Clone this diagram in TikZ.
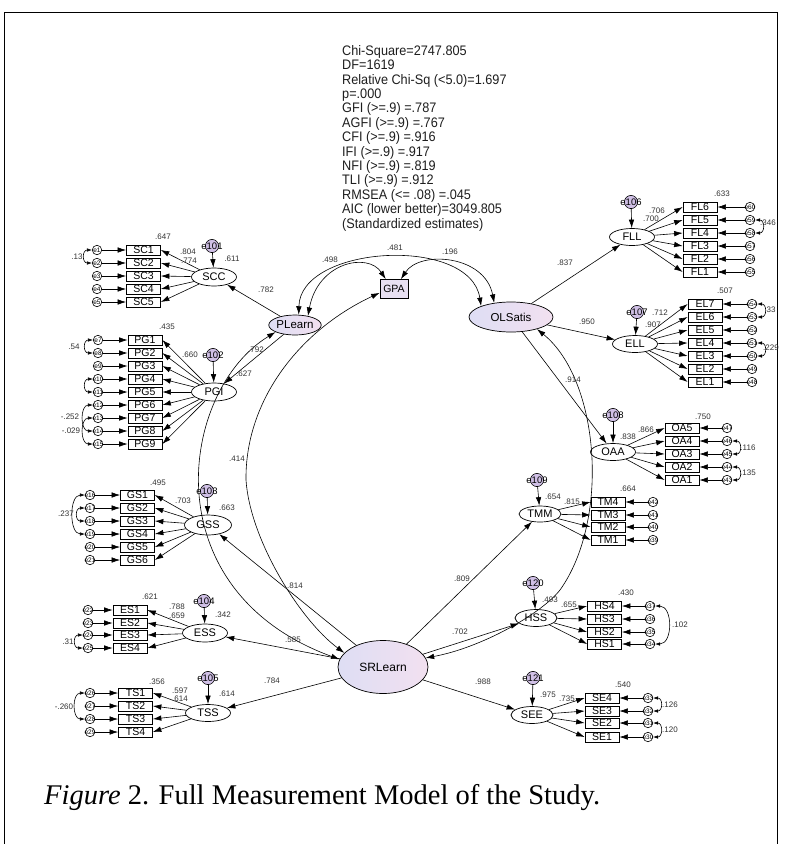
\documentclass[tikz,border=0pt]{standalone}
\usepackage{fontspec}
\usepackage{graphicx}
\setmainfont{Liberation Sans}
\newfontfamily\capfont{Liberation Serif}
\usetikzlibrary{arrows.meta,shapes.geometric}
\definecolor{lavL}{RGB}{222,222,244}
\definecolor{lavR}{RGB}{242,224,240}
\definecolor{distc}{RGB}{208,192,230}
\definecolor{gpac}{RGB}{232,224,242}
\definecolor{lbl}{RGB}{50,50,50}
\tikzset{
 obs/.style={draw, rectangle, line width=0.7pt, minimum width=34pt, minimum height=10pt, inner sep=0pt, font=\fontsize{10.5}{10.5}\selectfont},
 lat/.style={draw, ellipse, line width=0.7pt, minimum width=45pt, minimum height=18pt, inner sep=0pt, font=\fontsize{11}{12}\selectfont},
 errc/.style={draw, circle, line width=0.6pt, minimum size=9.5pt, inner sep=-1.2pt, font=\fontsize{6.5}{7}\selectfont},
 distn/.style={draw, circle, line width=0.6pt, fill=distc, inner sep=-4pt, font=\fontsize{9.5}{10}\selectfont},
 hilat/.style={draw, ellipse, line width=0.7pt, left color=lavL, right color=lavR, inner sep=0pt, font=\fontsize{11.5}{12}\selectfont},
 lab/.style={font=\fontsize{8}{9}\selectfont, text=lbl, inner sep=0pt},
 pth/.style={-{Latex[length=8.5pt,width=5.5pt]}, line width=0.6pt},
 cov/.style={{Latex[length=8.5pt,width=5.5pt]}-{Latex[length=8.5pt,width=5.5pt]}, line width=0.6pt},
 covs/.style={{Latex[length=5pt,width=3.5pt]}-{Latex[length=5pt,width=3.5pt]}, line width=0.6pt},
}
\begin{document}
\begin{tikzpicture}[x=1pt,y=-1pt]
\useasboundingbox (0,0) rectangle (792,844);
\draw[line width=0.8pt] (4,844) -- (4,12) -- (777,12) -- (777,844);

% statistics
\node[anchor=north west, inner sep=0pt, font=\fontsize{13.8}{14.4}\selectfont, text={rgb,255:red,30;green,30;blue,30}] (stats) at (342,45)
 {\scalebox{0.92}[1]{\begin{tabular}{@{}l@{}}
 Chi-Square=2747.805\\
 DF=1619\\
 Relative Chi-Sq (<5.0)=1.697\\
 p=.000\\
 GFI (>=.9) =.787\\
 AGFI (>=.9) =.767\\
 CFI (>=.9) =.916\\
 IFI (>=.9) =.917\\
 NFI (>=.9) =.819\\
 TLI (>=.9) =.912\\
 RMSEA (<= .08) =.045\\
 AIC (lower better)=3049.805\\
 (Standardized estimates)
 \end{tabular}}};

% caption
\node[anchor=base west, inner sep=0pt, font=\capfont\fontsize{28.5}{30}\selectfont] (cap) at (44,804)
 {\textit{Figure} 2. Full Measurement Model of the Study.};

% central nodes
\node[draw, rectangle, line width=0.7pt, fill=gpac, minimum width=28pt, minimum height=19pt, inner sep=0pt, font=\fontsize{10.5}{11}\selectfont] (GPA) at (394,289) {GPA};
\node[hilat, minimum width=48pt, minimum height=20pt] (PLearn) at (295,325) {PLearn};
\node[hilat, minimum width=84pt, minimum height=30pt] (OLSatis) at (511,317) {OLSatis};
\node[hilat, minimum width=90pt, minimum height=53pt, font=\fontsize{12}{13}\selectfont] (SRLearn) at (383,667) {SRLearn};

% ---------- left groups ----------
\node[lat] (SCC) at (214,277) {SCC};
\node[distn] (d101) at (212,246) {e101};
\draw[pth] (d101) -- (SCC);
\foreach \i/\y/\e in {1/250/1,2/263/2,3/276/3,4/289/4,5/302/5}{
 \node[obs] (SC\i) at (143.5,\y) {SC\i};
 \node[errc] (eSC\i) at (97,\y) {e\e};
 \draw[pth] (eSC\i) -- (SC\i);
 \draw[pth] (SCC) -- (SC\i.east);
}

\node[lat] (PGI) at (214,392) {PGI};
\node[distn] (d102) at (213,355) {e102};
\draw[pth] (d102) -- (PGI);
\foreach \i/\y/\e in {1/340/7,2/353/8,3/366/9,4/379/10,5/392/11,6/405/12,7/418/13,8/431/14,9/444/15}{
 \node[obs] (PG\i) at (145,\y) {PG\i};
 \node[errc] (ePG\i) at (98,\y) {e\e};
 \draw[pth] (ePG\i) -- (PG\i);
 \draw[pth] (PGI) -- (PG\i.east);
}

\node[lat, minimum width=47pt, minimum height=20pt] (GSS) at (208,525) {GSS};
\node[distn] (d103) at (207,491) {e103};
\draw[pth] (d103) -- (GSS);
\foreach \i/\y/\e in {1/495/16,2/508/17,3/521/18,4/534/19,5/547/20,6/560/21}{
 \node[obs] (GS\i) at (137.5,\y) {GS\i};
 \node[errc] (eGS\i) at (90,\y) {e\e};
 \draw[pth] (eGS\i) -- (GS\i);
 \draw[pth] (GSS) -- (GS\i.east);
}

\node[lat] (ESS) at (205,633) {ESS};
\node[distn] (d104) at (204,601) {e104};
\draw[pth] (d104) -- (ESS);
\foreach \i/\y/\e in {1/610/22,2/623/23,3/635/24,4/648/25}{
 \node[obs] (ES\i) at (130,\y) {ES\i};
 \node[errc] (eES\i) at (88,\y) {e\e};
 \draw[pth] (eES\i) -- (ES\i);
 \draw[pth] (ESS) -- (ES\i.east);
}

\node[lat, minimum height=17pt] (TSS) at (208,713) {TSS};
\node[distn] (d105) at (208,678) {e105};
\draw[pth] (d105) -- (TSS);
\foreach \i/\y/\e in {1/693/26,2/706/27,3/719/28,4/732/29}{
 \node[obs] (TS\i) at (135.5,\y) {TS\i};
 \node[errc] (eTS\i) at (90,\y) {e\e};
 \draw[pth] (eTS\i) -- (TS\i);
 \draw[pth] (TSS) -- (TS\i.east);
}

\foreach \a/\b/\d in {eSC1/eSC2/10, ePG1/ePG2/10, ePG4/ePG5/10, ePG6/ePG8/13, ePG7/ePG9/13, eGS1/eGS4/16, eGS2/eGS3/10, eES3/eES4/10, eTS1/eTS3/13}
 \draw[covs] (\a.west) .. controls +(-\d,0) and +(-\d,0) .. (\b.west);

% ---------- right groups ----------
\node[lat, minimum height=17pt] (FLL) at (632,237) {FLL};
\node[distn] (d106) at (631,202) {e106};
\draw[pth] (d106) -- (FLL);
\foreach \i/\y/\e in {6/207/60,5/220/59,4/233/58,3/246/57,2/259/56,1/272/55}{
 \node[obs] (FL\i) at (700,\y) {FL\i};
 \node[errc] (eFL\i) at (750,\y) {e\e};
 \draw[pth] (eFL\i) -- (FL\i);
 \draw[pth] (FLL) -- (FL\i.west);
}

\node[lat, minimum height=17pt] (ELL) at (635,344) {ELL};
\node[distn] (d107) at (637,312) {e107};
\draw[pth] (d107) -- (ELL);
\foreach \i/\y/\e in {7/304/54,6/317/53,5/330/52,4/343/51,3/356/50,2/369/49,1/382/48}{
 \node[obs] (EL\i) at (705,\y) {EL\i};
 \node[errc] (eEL\i) at (752,\y) {e\e};
 \draw[pth] (eEL\i) -- (EL\i);
 \draw[pth] (ELL) -- (EL\i.west);
}

\node[lat, minimum height=17pt] (OAA) at (613,452) {OAA};
\node[distn] (d108) at (613,415) {e108};
\draw[pth] (d108) -- (OAA);
\foreach \i/\y/\e in {5/428/47,4/441/46,3/454/45,2/467/44,1/480/43}{
 \node[obs] (OA\i) at (682,\y) {OA\i};
 \node[errc] (eOA\i) at (727,\y) {e\e};
 \draw[pth] (eOA\i) -- (OA\i);
 \draw[pth] (OAA) -- (OA\i.west);
}

\node[lat, minimum width=42pt, minimum height=16pt] (TMM) at (540,514) {TMM};
\node[distn] (d109) at (537,480) {e109};
\draw[pth] (d109) -- (TMM);
\foreach \i/\y/\e in {4/502/42,3/515/41,2/527/40,1/540/39}{
 \node[obs] (TM\i) at (608,\y) {TM\i};
 \node[errc] (eTM\i) at (653,\y) {e\e};
 \draw[pth] (eTM\i) -- (TM\i);
 \draw[pth] (TMM) -- (TM\i.west);
}

\node[lat, minimum width=42pt, minimum height=17pt] (HSS) at (536,618) {HSS};
\node[distn] (d120) at (533,583) {e120};
\draw[pth] (d120) -- (HSS);
\foreach \i/\y/\e in {4/606/37,3/619/36,2/632/35,1/644/34}{
 \node[obs] (HS\i) at (604.5,\y) {HS\i};
 \node[errc] (eHS\i) at (650,\y) {e\e};
 \draw[pth] (eHS\i) -- (HS\i);
 \draw[pth] (HSS) -- (HS\i.west);
}

\node[lat, minimum width=42pt, minimum height=17pt] (SEE) at (532,715) {SEE};
\node[distn] (d121) at (533,678) {e121};
\draw[pth] (d121) -- (SEE);
\foreach \i/\y/\e in {4/698/33,3/711/32,2/723/31,1/737/30}{
 \node[obs] (SE\i) at (602,\y) {SE\i};
 \node[errc] (eSE\i) at (648,\y) {e\e};
 \draw[pth] (eSE\i) -- (SE\i);
 \draw[pth] (SEE) -- (SE\i.west);
}

\foreach \a/\b/\d in {eFL5/eFL4/10, eEL7/eEL6/10, eEL4/eEL3/10, eOA4/eOA3/10, eOA2/eOA1/10, eHS4/eHS1/18, eSE4/eSE3/10, eSE2/eSE1/10}
 \draw[covs] (\a.east) .. controls +(\d,0) and +(\d,0) .. (\b.east);

% ---------- structural paths ----------
\draw[pth] (PLearn) -- (SCC);
\draw[pth] (PLearn) -- (PGI);
\draw[pth] (OLSatis) -- (FLL);
\draw[pth] (OLSatis) -- (ELL);
\draw[pth] (OLSatis) -- (OAA);
\foreach \f in {GSS,ESS,TSS,TMM,HSS,SEE}
 \draw[pth] (SRLearn) -- (\f);

\draw[cov] (PLearn.200) .. controls (180,390) and (150,590) .. (SRLearn.170);
\draw[cov] (GPA.195) .. controls (300,330) and (245,400) .. (246,480) .. controls (250,540) and (300,620) .. (SRLearn.160);
\draw[cov] (OLSatis.-25) .. controls (600,380) and (610,520) .. (560,590) .. controls (540,615) and (480,648) .. (SRLearn.12);
\draw[cov] (PLearn.70) .. controls (300,245) and (470,235) .. (OLSatis.160);
\draw[cov] (PLearn.35) .. controls (318,262) and (368,252) .. (GPA.130);
\draw[cov] (OLSatis.140) .. controls (485,255) and (420,250) .. (GPA.55);

% ---------- estimates ----------
\foreach \x/\y/\tx [count=\k] in {
 163/237/.647, 188/252/.804, 189/261/.774, 232/259/.611, 266/290/.782, 77/257/.13,
 167/327/.435, 190/355/.660, 256/350/.792, 244/374/.627, 74/347/.54, 70/417/-.252, 71/431/-.029, 237/459/.414,
 158/483/.495, 183/501/.703, 227/508/.663, 66/514/.237, 295/586/.814,
 150/597/.621, 177/607/.788, 177/616/.659, 223/615/.342, 293/640/.585, 68/642/.31,
 157/682/.356, 180/691/.597, 180/699/.614, 227/694/.614, 272/681/.784, 64/707/-.260,
 722/194/.633, 657/211/.706, 651/219/.700, 768/223/.346, 565/263/.837,
 725/291/.507, 660/313/.712, 653/325/.907, 587/322/.950, 770/310/.33, 771/348/.229, 573/380/.914,
 703/417/.750, 646/430/.866, 628/437/.838, 748/448/.116, 748/473/.135,
 628/489/.664, 553/497/.654, 572/502/.815,
 626/593/.430, 550/600/.493, 569/605/.655, 680/625/.102,
 462/579/.809, 460/632/.702, 483/682/.988,
 623/685/.540, 548/695/.975, 567/699/.735, 670/705/.126, 670/730/.120,
 330/260/.498, 395/248/.481, 450/252/.196}
 \node[lab] (L\k) at (\x,\y) {\tx};
\end{tikzpicture}
\end{document}
